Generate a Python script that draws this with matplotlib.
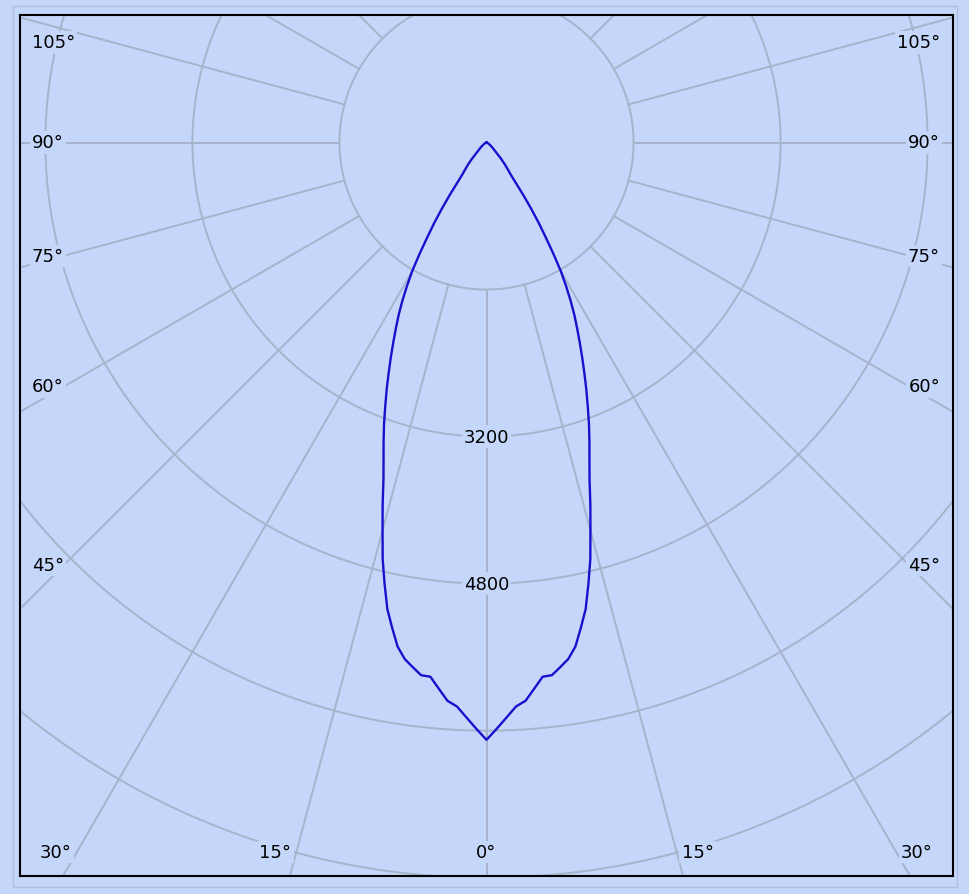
import numpy as np
import matplotlib
matplotlib.use("Agg")
import matplotlib.pyplot as plt
from matplotlib.patches import Rectangle

# ---------------- data ----------------
angles_deg = [0, 1, 2, 3, 4, 5, 6, 7, 8, 9, 10, 11, 12, 13, 14, 15, 16, 17, 18, 19,
              20, 21, 22, 23, 24, 25, 26, 27, 28, 29, 30, 31, 32, 33, 34, 35, 36, 37,
              38, 40, 42, 44, 50, 55, 60, 70, 80, 90]
intensity_cd = [6500, 6380, 6260, 6145, 6090, 5965, 5845, 5840, 5765, 5690, 5570, 5380,
                5190, 4930, 4670, 4370, 4100, 3835, 3625, 3440, 3260, 3075, 2900, 2725,
                2560, 2400, 2250, 2105, 1950, 1785, 1620, 1415, 1215, 1045, 870, 700, 540,
                440, 390, 310, 230, 155, 80, 45, 25, 8, 2, 0]
ring_values = [1600, 3200, 4800, 6400, 8000, 9600]
ring_labels = ["3200", "4800"]
spoke_angles = list(range(0, 360, 15))
side_label_angles = [45, 60, 75, 90, 105]
bottom_label_angles = [0, 15, 30]

# ---------------- layout ----------------
W, H = 969, 895
bg = "#C4D7FA"
grid_c = "#A7B3CB"
curve_c = "#1A0FCC"

fig = plt.figure(figsize=(W / 100, H / 100), dpi=100)
fig.patch.set_facecolor(bg)

# outer light frame
fig.patches.append(Rectangle((13 / W, (H - 888) / H), (957 - 13) / W, (888 - 7) / H,
                             transform=fig.transFigure, fill=False,
                             edgecolor="#AEBEDC", linewidth=1.0))

cd_per_px = 1 / 0.0919
xl, xr, yt, yb = 20, 953, 15.5, 877
cx, cy = 486.5, 143.5
ax = fig.add_axes([xl / W, (H - yb) / H, (xr - xl) / W, (yb - yt) / H])
ax.set_facecolor(bg)
xmin, xmax = (xl - cx) * cd_per_px, (xr - cx) * cd_per_px
ymin, ymax = -(yb - cy) * cd_per_px, (cy - yt) * cd_per_px
ax.set_xlim(xmin, xmax)
ax.set_ylim(ymin, ymax)
ax.set_xticks([])
ax.set_yticks([])
for s in ax.spines.values():
    s.set_color("black")
    s.set_linewidth(1.5)

# rings
t = np.linspace(0, 2 * np.pi, 1441)
for r in ring_values:
    ax.plot(r * np.sin(t), r * np.cos(t), color=grid_c, lw=1.4, zorder=1)

# spokes (from the inner ring outward)
r_in = ring_values[0]
r_out = 20000
for a in spoke_angles:
    th = np.radians(a)
    ax.plot([r_in * np.sin(th), r_out * np.sin(th)],
            [-r_in * np.cos(th), -r_out * np.cos(th)], color=grid_c, lw=1.4, zorder=1)

# ring labels along the 0 deg axis
lab_box = dict(boxstyle="square,pad=0.12", fc=bg, ec="none")
fs = 13
for lab in ring_labels:
    ax.text(0, -float(lab), lab, ha="center", va="center", fontsize=fs,
            color="black", bbox=lab_box, zorder=3)

# angle labels on the sides
px = cd_per_px
for a in side_label_angles:
    th = np.radians(a)
    xa = xmin + 44 * px          # negative
    ya = xa / np.tan(th) if a != 90 else 0.0
    ya = min(ya, ymax - 28 * px)
    ax.text(xmin + 12 * px, ya, f"{a}°", ha="left", va="center", fontsize=fs,
            bbox=lab_box, zorder=3)
    ax.text(xmax - 13 * px, ya, f"{a}°", ha="right", va="center", fontsize=fs,
            bbox=lab_box, zorder=3)

# angle labels along the bottom
yb_lab = ymin + 24 * px
for a in bottom_label_angles:
    th = np.radians(a)
    xa = -yb_lab * np.tan(th)
    if a == 0:
        ax.text(0, yb_lab, f"{a}°", ha="center", va="center", fontsize=fs,
                bbox=lab_box, zorder=3)
    else:
        ax.text(-xa - 5 * px, yb_lab, f"{a}°", ha="right", va="center", fontsize=fs,
                bbox=lab_box, zorder=3)
        ax.text(xa + 5 * px, yb_lab, f"{a}°", ha="left", va="center", fontsize=fs,
                bbox=lab_box, zorder=3)

# intensity curve (mirrored halves)
ang = np.radians(np.array(angles_deg, dtype=float))
inten = np.array(intensity_cd, dtype=float)
x_right = inten * np.sin(ang)
y_right = -inten * np.cos(ang)
xs = np.concatenate([-x_right[::-1], x_right[1:]])
ys = np.concatenate([y_right[::-1], y_right[1:]])
ax.plot(xs, ys, color=curve_c, lw=1.7, zorder=4)

fig.savefig("out.png", dpi=100, facecolor=bg)
